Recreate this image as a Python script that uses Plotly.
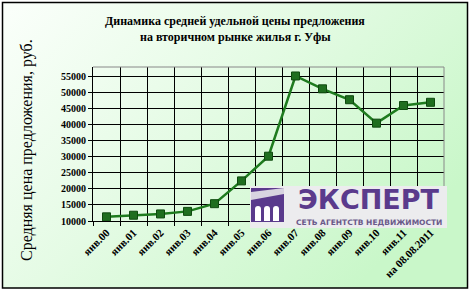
import base64
import plotly.graph_objects as go

categories = ["янв.00", "янв.01", "янв.02", "янв.03", "янв.04", "янв.05", "янв.06",
              "янв.07", "янв.08", "янв.09", "янв.10", "янв.11", "на 08.08.2011"]
prices = [11300, 11800, 12200, 13000, 15400, 22500, 30200,
          55200, 51200, 47800, 40500, 46000, 47000]
y_ticks = [10000, 15000, 20000, 25000, 30000, 35000, 40000, 45000, 50000, 55000]
y_labels = [str(v) for v in y_ticks]

W, H = 472, 291
L, R, T, B = 93, 444, 67, 221  # plot area in pixels


def px(x):
    return (x - L) / (R - L)


def py(y):
    return (B - y) / (B - T)


svg = ('<svg xmlns="http://www.w3.org/2000/svg" width="100" height="100" preserveAspectRatio="none">'
       '<defs><linearGradient id="g" x1="0" y1="0" x2="1" y2="0.6">'
       '<stop offset="0" stop-color="#fbfffb"/><stop offset="0.5" stop-color="#e4fbe4"/>'
       '<stop offset="1" stop-color="#c9f7c9"/></linearGradient></defs>'
       '<rect width="100" height="100" fill="url(#g)"/></svg>')
bg_src = "data:image/svg+xml;base64," + base64.b64encode(svg.encode()).decode()

fig = go.Figure()
fig.add_trace(go.Scatter(
    x=categories, y=prices, mode="lines+markers",
    line=dict(color="#1e7b1e", width=2.5),
    marker=dict(symbol="square", size=8, color="#1f6e1f", line=dict(color="#0f4a0f", width=1)),
    showlegend=False, cliponaxis=False,
))

serif = "Liberation Serif"
fig.update_layout(
    width=W, height=H,
    margin=dict(l=L, r=W - R, t=T, b=H - B),
    paper_bgcolor="white", plot_bgcolor="white",
    font=dict(family=serif, color="black"),
    images=[dict(source=bg_src, xref="paper", yref="paper",
                 x=px(3), y=py(3), sizex=px(467) - px(3), sizey=py(3) - py(288),
                 xanchor="left", yanchor="top", sizing="stretch", layer="below")],
    xaxis=dict(type="category", tickson="boundaries", showgrid=True, gridcolor="black", gridwidth=1,
               ticks="outside", ticklen=4, tickcolor="black", tickangle=-45,
               tickfont=dict(family=serif, size=11, color="black", weight="bold"),
               showline=True, linecolor="black", linewidth=1, range=[-0.5, 12.5]),
    yaxis=dict(range=[10000, 58000], tickvals=y_ticks, ticktext=y_labels,
               showgrid=True, gridcolor="black", gridwidth=1,
               ticks="outside", ticklen=4, tickcolor="black",
               tickfont=dict(family=serif, size=10, color="black", weight="bold"),
               showline=True, linecolor="black", linewidth=1, zeroline=False),
)

shapes = [
    # plot border (grey top/right)
    dict(type="line", xref="paper", yref="paper", x0=0, x1=1, y0=1, y1=1, line=dict(color="#888888", width=1)),
    dict(type="line", xref="paper", yref="paper", x0=1, x1=1, y0=0, y1=1, line=dict(color="#888888", width=1)),
    # outer border
    dict(type="rect", xref="paper", yref="paper", x0=px(2.5), x1=px(467.5), y0=py(288), y1=py(2.5),
         line=dict(color="black", width=1.5), layer="above"),
    # logo background
    dict(type="rect", xref="paper", yref="paper", x0=px(250), x1=px(447), y0=py(228), y1=py(186),
         fillcolor="#ececee", line=dict(width=0), layer="above"),
    # logo icon
    dict(type="rect", xref="paper", yref="paper", x0=px(251), x1=px(284), y0=py(222), y1=py(188),
         fillcolor="#5a3a8c", line=dict(width=0), layer="above"),
    dict(type="path", xref="paper", yref="paper",
         path=f"M {px(251)},{py(192)} L {px(284)},{py(188)} L {px(284)},{py(194)} L {px(251)},{py(200)} Z",
         fillcolor="#d8d4e0", line=dict(width=0), layer="above"),
]
for x0 in (255, 264, 273):
    shapes.append(dict(type="rect", xref="paper", yref="paper", x0=px(x0), x1=px(x0 + 6),
                       y0=py(221), y1=py(209), fillcolor="#ffffff", line=dict(width=0), layer="above"))
    shapes.append(dict(type="circle", xref="paper", yref="paper", x0=px(x0), x1=px(x0 + 6),
                       y0=py(212), y1=py(206), fillcolor="#ffffff", line=dict(width=0), layer="above"))
fig.update_layout(shapes=shapes)

ann = [
    dict(text="<b>Динамика средней удельной цены предложения</b>", x=px(235), y=py(21),
         font=dict(family=serif, size=12, color="black")),
    dict(text="<b>на вторичном рынке жилья г. Уфы</b>", x=px(235), y=py(37),
         font=dict(family=serif, size=12, color="black")),
    dict(text="Средняя цена предложения, руб.", x=px(27), y=py(150), textangle=-90,
         font=dict(family=serif, size=16, color="black")),
    dict(text="<b>ЭКСПЕРТ</b>", x=px(369), y=py(199),
         font=dict(family="DejaVu Sans", size=27, color="#5a3a8c")),
    dict(text="<b>СЕТЬ АГЕНТСТВ НЕДВИЖИМОСТИ</b>", x=px(369), y=py(222),
         font=dict(family="DejaVu Sans", size=7.5, color="#6a5a8a")),
]
for a in ann:
    a.update(xref="paper", yref="paper", showarrow=False, xanchor="center", yanchor="middle")
fig.update_layout(annotations=ann)

fig.write_html("out.html")
